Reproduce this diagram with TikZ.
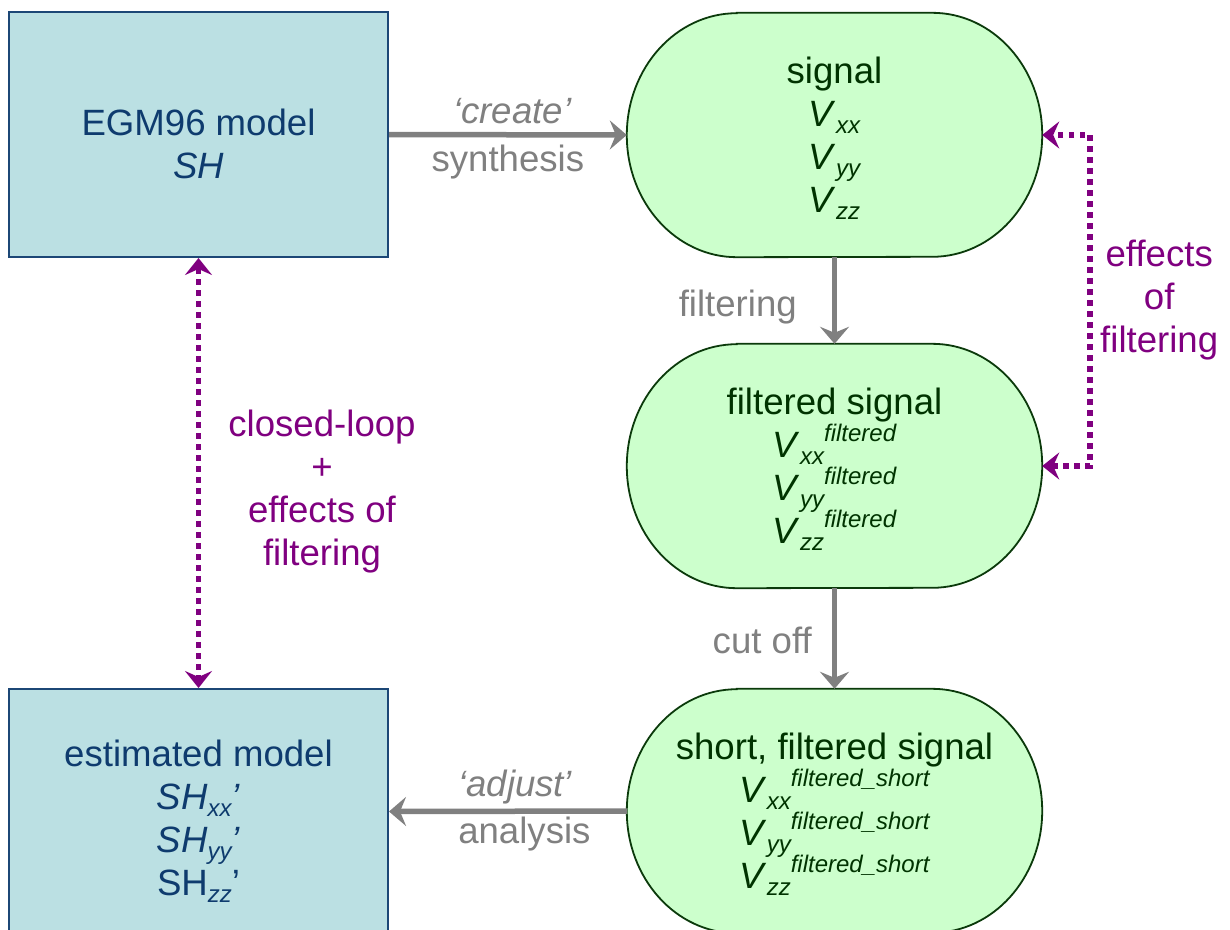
\documentclass[tikz,border=0pt]{standalone}
\usepackage{fontspec}
\setmainfont{Liberation Sans}
\usetikzlibrary{arrows.meta,calc}
\pgfdeclarelayer{bg}
\pgfsetlayers{bg,main}

\definecolor{cboxfill}{HTML}{BBE0E3}
\definecolor{cboxline}{HTML}{1C4776}
\definecolor{cboxtext}{HTML}{0E3B6E}
\definecolor{cstadfill}{HTML}{CCFFCC}
\definecolor{cstadline}{HTML}{0B3A0B}
\definecolor{cgreen}{HTML}{003300}
\definecolor{cgray}{HTML}{808080}
\definecolor{cpurple}{HTML}{800080}

\newcommand\diagfont{\fontsize{36.6}{43}\selectfont}
\newcommand\subtxt[1]{\smash{\raisebox{-7pt}{\fontsize{24}{24}\selectfont\itshape #1}}}
\newcommand\suptxt[1]{\smash{\raisebox{16pt}{\fontsize{24}{24}\selectfont\itshape #1}}}

\begin{document}
\begin{tikzpicture}[x=1pt,y=1pt,
  modelbox/.style={draw=cboxline, line width=2pt, fill=cboxfill,
    minimum width=379pt, minimum height=245pt, inner sep=0pt},
  boxlabel/.style={text=cboxtext, align=center, font=\diagfont, inner sep=0pt},
  stadium/.style={minimum width=415pt, minimum height=244pt, inner sep=0pt,
    text=cgreen, align=center, font=\diagfont},
  stadline/.style={draw=cstadline, line width=1.8pt, fill=cstadfill},
  flow/.style={draw=cgray, line width=5.5pt,
    -{Stealth[length=17pt,width=29pt,inset=6pt]}},
  loop/.style={draw=cpurple, line width=5.5pt, dash pattern=on 5.5pt off 5.5pt,
    {Stealth[length=17pt,width=27pt,inset=6pt]}-{Stealth[length=17pt,width=27pt,inset=6pt]}},
  flowlabel/.style={text=cgray, font=\diagfont, inner sep=0pt},
  looplabel/.style={text=cpurple, font=\diagfont, align=center, inner sep=0pt}]

\useasboundingbox (0,0) rectangle (1230,-929);

% models (left column)
\node[modelbox] (egm) at (198.5,-134.5) {};
\node[modelbox] (est) at (198.5,-811.5) {};
\node[boxlabel] (egmtxt) at ($(egm.center)+(0,-9)$) {EGM96 model\\\textit{SH}};
\node[boxlabel] (esttxt) at ($(est.center)+(0,-6)$)
  {estimated model\\\textit{SH}\subtxt{xx}\textit{’}\\\textit{SH}\subtxt{yy}\textit{’}\\SH\subtxt{zz}’};

% signals (right column)
\node[stadium] (sig) at (834.5,-135)
  {signal\\\textit{V}\subtxt{xx}\\\textit{V}\subtxt{yy}\\\textit{V}\subtxt{zz}};
\node[stadium] (filt) at (834.5,-466)
  {filtered signal\\\textit{V}\subtxt{xx}\suptxt{filtered}\\\textit{V}\subtxt{yy}\suptxt{filtered}\\\textit{V}\subtxt{zz}\suptxt{filtered}};
\node[stadium] (short) at (834.5,-811)
  {short, filtered signal\\\textit{V}\subtxt{xx}\suptxt{filtered\_short}\\\textit{V}\subtxt{yy}\suptxt{filtered\_short}\\\textit{V}\subtxt{zz}\suptxt{filtered\_short}};

\begin{pgfonlayer}{bg}
  \fill[white] (0,0) rectangle (1230,-929);
  \foreach \s in {sig,filt,short}{
    \draw[stadline] ($(\s.north west)+(110,0)$) -- ($(\s.north east)+(-110,0)$)
      arc[start angle=90,end angle=-90,x radius=110pt,y radius=122pt]
      -- ($(\s.south west)+(110,0)$)
      arc[start angle=270,end angle=90,x radius=110pt,y radius=122pt] -- cycle;
  }
\end{pgfonlayer}

% processing steps
\draw[flow] (egm.east) -- (sig.west)
  node[flowlabel, midway, anchor=base, xshift=4.5pt, yshift=11pt] {\textit{‘create’}}
  node[flowlabel, midway, anchor=base, yshift=-37pt] {synthesis};
\draw[flow] (sig.south) -- (filt.north)
  node[flowlabel, midway, anchor=base east, xshift=-35pt, yshift=-16pt] {filtering};
\draw[flow] (filt.south) -- (short.north)
  node[flowlabel, midway, anchor=base east, xshift=-20pt, yshift=-15pt] {cut off};
\draw[flow] (short.west) -- (est.east)
  node[flowlabel, midway, anchor=base, xshift=7.5pt, yshift=15pt] {\textit{‘adjust’}}
  node[flowlabel, midway, anchor=base, xshift=16.5pt, yshift=-32pt] {analysis};

% comparisons
\draw[loop] (egm.south) -- (est.north)
  node[looplabel, midway, xshift=123.5pt, yshift=-19pt] {closed-loop\\+\\effects of\\filtering};
\draw[loop] (filt.east) -- ++(48,0)
  |- node[looplabel, pos=0.25, xshift=69pt] {effects\\of\\filtering} (sig.east);
\end{tikzpicture}
\end{document}
